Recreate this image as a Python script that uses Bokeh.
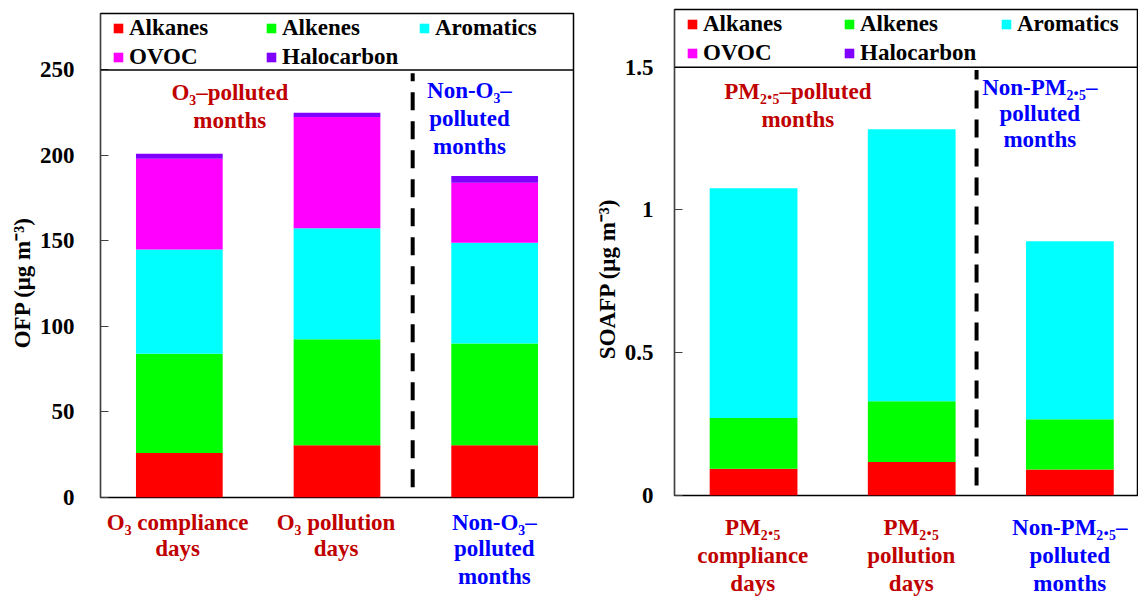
import math
from bokeh.plotting import figure
from bokeh.layouts import row, column
from bokeh.models import Span, Label, Legend, LegendItem, FixedTicker, ColumnDataSource, Range1d
from bokeh.core.properties import value
from bokeh.embed import file_html
from bokeh.resources import INLINE

# ---------------- data ----------------
groups = ["Alkanes", "Alkenes", "Aromatics", "OVOC", "Halocarbon"]
colors = ["#FF0000", "#00FF00", "#00FFFF", "#FF00FF", "#8000FF"]

ofp_alkanes = [26.0, 30.5, 30.5]
ofp_alkenes = [58.0, 62.0, 59.5]
ofp_aromatics = [61.0, 65.0, 59.0]
ofp_ovoc = [53.0, 65.0, 35.0]
ofp_halocarbon = [3.0, 2.5, 4.0]

soa_alkanes = [0.094, 0.117, 0.091]
soa_alkenes = [0.177, 0.213, 0.176]
soa_aromatics = [0.805, 0.953, 0.623]
soa_ovoc = [0.0, 0.0, 0.0]
soa_halocarbon = [0.0, 0.0, 0.0]

left_xlabels = [["O₃ compliance", "days"], ["O₃ pollution", "days"], ["Non-O₃–", "polluted", "months"]]
right_xlabels = [["PM₂.₅", "compliance", "days"], ["PM₂.₅", "pollution", "days"], ["Non-PM₂.₅–", "polluted", "months"]]
left_ylabel = "OFP (μg m⁻³)"
right_ylabel = "SOAFP (μg m⁻³)"
left_ticks = [0, 50, 100, 150, 200, 250]
right_ticks = [0, 0.5, 1, 1.5]
right_tick_labels = ["0", "0.5", "1", "1.5"]

FONT = "Liberation Serif"
FS = "23px"
RED = "#C00000"
BLUE = "#0000FF"
xpos = [0, 1, 2]
legend_order = [0, 3, 1, 4, 2]  # column-major fill -> rows: Alkanes Alkenes Aromatics / OVOC Halocarbon


def blank(width, height):
    q = figure(width=width, height=height, x_range=Range1d(0, width), y_range=Range1d(0, height),
               output_backend="svg", toolbar_location=None,
               min_border_left=0, min_border_right=0, min_border_top=0, min_border_bottom=0)
    q.axis.visible = False
    q.grid.visible = False
    q.outline_line_color = None
    return q


def ylabel_fig(width, height, text, cx, cy_from_top):
    q = blank(width, height)
    q.text(x=[cx], y=[height - cy_from_top], text=[text], angle=math.pi / 2,
           text_align="center", text_baseline="middle", text_color="black",
           text_font=value(FONT), text_font_style="bold", text_font_size=FS)
    return q


def make_panel(width, height, border, xr, yr, stacks, ticks, tick_labels, tick_standoff,
               top_line, bar_w, dash_x, dash_y, anns, leg_loc, label_w):
    p = figure(width=width, height=height, x_range=xr, y_range=yr,
               output_backend="svg", toolbar_location=None,
               min_border_left=border[0], min_border_right=border[1],
               min_border_top=border[2], min_border_bottom=border[3])
    p.xaxis.visible = False
    p.xgrid.visible = False
    p.ygrid.visible = False
    p.outline_line_color = "black"
    p.outline_line_width = 1.5
    p.background_fill_color = "white"
    p.border_fill_color = "white"

    data = {"x": xpos}
    for g, vals in zip(groups, stacks):
        data[g] = vals
    src = ColumnDataSource(data)
    rs = p.vbar_stack(groups, x="x", width=bar_w, color=colors, source=src, line_width=0)

    items = [LegendItem(label=groups[k], renderers=[rs[k]]) for k in legend_order]
    leg = Legend(items=items, ncols=3, location=leg_loc,
                 label_text_font=FONT, label_text_font_style="bold",
                 label_text_font_size=FS, label_text_color="black",
                 glyph_width=12, glyph_height=12, label_standoff=5,
                 label_width=label_w, label_height=27, spacing=2,
                 padding=0, margin=0, border_line_color=None,
                 background_fill_alpha=0)
    p.add_layout(leg, "center")

    p.add_layout(Span(location=top_line, dimension="width", line_color="black", line_width=1.5))
    p.line(x=[dash_x, dash_x], y=dash_y, line_color="black", line_width=4, line_dash="18 11")

    ax = p.yaxis[0]
    ax.ticker = FixedTicker(ticks=ticks)
    ax.major_label_overrides = {t: l for t, l in zip(ticks, tick_labels)}
    ax.major_tick_in = 8
    ax.major_tick_out = 0
    ax.minor_tick_line_color = None
    ax.axis_line_color = "#404040"
    ax.major_tick_line_color = "#404040"
    ax.major_label_text_font = FONT
    ax.major_label_text_font_style = "bold"
    ax.major_label_text_font_size = FS
    ax.major_label_text_color = "black"
    ax.major_label_standoff = tick_standoff

    for (xx, yy, lines, col, step) in anns:
        for j, t in enumerate(lines):
            p.add_layout(Label(x=xx, y=yy - j * step, text=t,
                               text_align="center", text_baseline="middle",
                               text_font=FONT, text_font_style="bold",
                               text_font_size=FS, text_color=col))
    return p


def make_labels(width, height, border, xr, xlabels, offsets):
    q = figure(width=width, height=height, x_range=xr, y_range=Range1d(0, height),
               output_backend="svg", toolbar_location=None,
               min_border_left=border[0], min_border_right=border[1],
               min_border_top=0, min_border_bottom=0)
    q.axis.visible = False
    q.grid.visible = False
    q.outline_line_color = None
    xs, ys, ts, cs = [], [], [], []
    for i, lines in enumerate(xlabels):
        for j, t in enumerate(lines):
            xs.append(xpos[i])
            ys.append(height - offsets[j])
            ts.append(t)
            cs.append(BLUE if i == 2 else RED)
    q.text(x=xs, y=ys, text=ts, text_color=cs, text_align="center", text_baseline="middle",
           text_font=value(FONT), text_font_style="bold", text_font_size=FS)
    return q


# left panel: frame x 98 -> 573, y 13 -> 497, 1.71 px per unit
lxr = Range1d(-0.5, 2.5)
ly = ylabel_fig(36, 509, left_ylabel, 22, 283)
lp = make_panel(552, 509, (62, 15, 13, 12), lxr, Range1d(0, 283),
                [ofp_alkanes, ofp_alkenes, ofp_aromatics, ofp_ovoc, ofp_halocarbon],
                left_ticks, [str(t) for t in left_ticks], 26,
                250, 0.55, 1.48, [6, 248],
                [(0.32, 237, ["O₃–polluted", "months"], RED, 16.5),
                 (1.84, 238, ["Non-O₃–", "polluted", "months"], BLUE, 16.5)],
                (12, 427), 134)
lq = make_labels(588, 91, (98, 15), lxr, left_xlabels, [13, 39, 67])

# right panel: frame x 673 -> 1138, y 9 -> 495, 285.5 px per unit
rxr = Range1d(-0.5, 2.434)
ry = ylabel_fig(33, 509, right_ylabel, 19, 282)
rp = make_panel(517, 509, (52, 0, 9, 14), rxr, Range1d(0, 1.702),
                [soa_alkanes, soa_alkenes, soa_aromatics, soa_ovoc, soa_halocarbon],
                right_ticks, right_tick_labels, 21,
                1.5, 0.555, 1.41, [0.035, 1.49],
                [(0.28, 1.415, ["PM₂.₅–polluted", "months"], RED, 0.098),
                 (1.81, 1.43, ["Non-PM₂.₅–", "polluted", "months"], BLUE, 0.092)],
                (12, 429), 138)
rq = make_labels(550, 91, (85, 0), rxr, right_xlabels, [18, 46, 74])

layout = row(column(row(ly, lp), lq), column(row(ry, rp), rq))
open("out.html", "w").write(file_html(layout, INLINE))
